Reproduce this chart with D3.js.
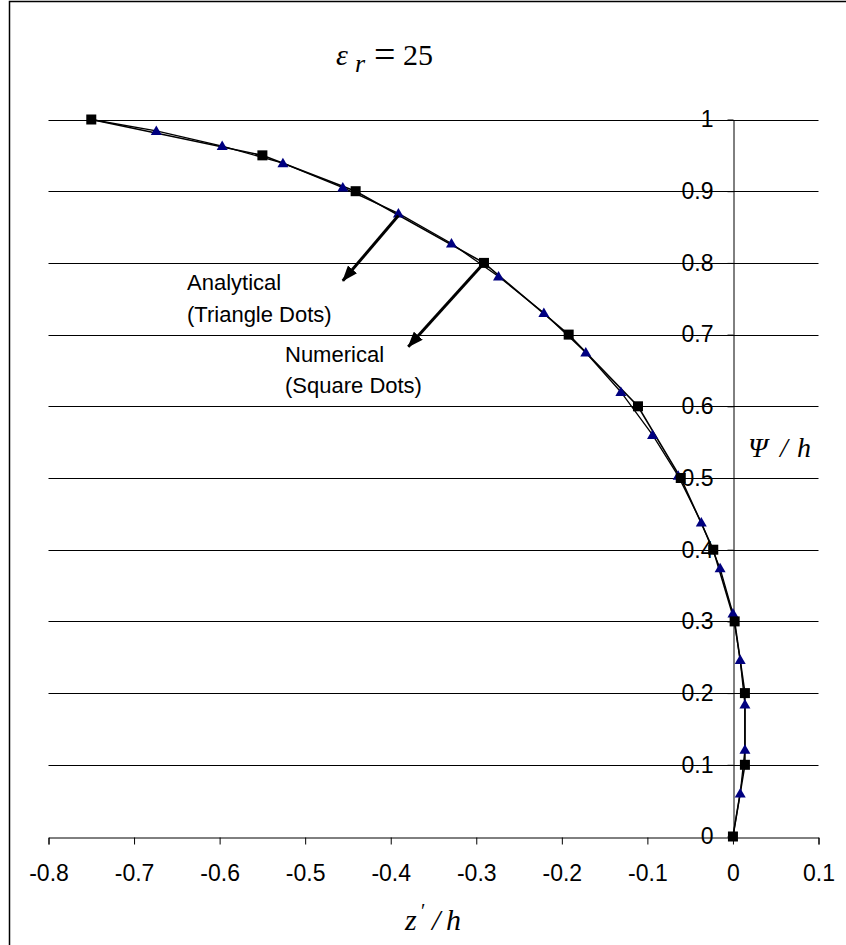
<!DOCTYPE html>
<meta charset="utf-8">
<title>Psi / h vs z' / h</title>
<style>
  body { margin: 0; background: #fff; }
  svg text { fill: #000; }
  .tick-label { font-family: "Liberation Sans", Arial, sans-serif; font-size: 23px; }
  .note { font-family: "Liberation Sans", Arial, sans-serif; font-size: 22px; }
  .math { font-family: "Liberation Serif", "Times New Roman", serif; }
</style>
<script src="https://d3js.org/d3.v7.min.js"></script>
<div id="chart"></div>
<script>
// numerical solution (square dots)
var numZ   = [-0.750, -0.550, -0.441, -0.291, -0.192, -0.111, -0.061, -0.023, 0.002, 0.014, 0.014, 0.000];
var numPsi = [1.00, 0.95, 0.90, 0.80, 0.70, 0.60, 0.50, 0.40, 0.30, 0.20, 0.10, 0.00];

// analytical solution (triangle dots)
var anaZ   = [-0.750, -0.674, -0.597, -0.526, -0.456, -0.391, -0.329, -0.274, -0.221, -0.172, -0.131,
              -0.094, -0.064, -0.037, -0.015, 0.000, 0.0085, 0.014, 0.014, 0.0085, 0.000];
var anaPsi = [1.000, 0.984, 0.963, 0.939, 0.905, 0.869, 0.827, 0.781, 0.730, 0.675, 0.620,
              0.560, 0.503, 0.438, 0.374, 0.311, 0.246, 0.184, 0.121, 0.060, 0.000];

var xTicks = [-0.8, -0.7, -0.6, -0.5, -0.4, -0.3, -0.2, -0.1, 0, 0.1];
var yTicks = [0, 0.1, 0.2, 0.3, 0.4, 0.5, 0.6, 0.7, 0.8, 0.9, 1];

var numerical  = numZ.map(function(d, i) { return {z: d, psi: numPsi[i]}; });
var analytical = anaZ.map(function(d, i) { return {z: d, psi: anaPsi[i]}; });

var width = 846, height = 945;

var svg = d3.select("#chart").append("svg")
    .attr("width", width)
    .attr("height", height);

// outer frame
svg.append("rect")
    .attr("x", 9.5).attr("y", 1.5)
    .attr("width", 860).attr("height", 960)
    .attr("fill", "none").attr("stroke", "#000").attr("stroke-width", 1.5);

var x = d3.scaleLinear().domain([-0.8, 0.1]).range([48.5, 818.5]);
var y = d3.scaleLinear().domain([0, 1]).range([836.5, 119.5]);

// excel style numbers, plain hyphen for minus
function fmt(d) {
  if (d === 0 || d === 1) return String(d);
  return d3.format(".1f")(d).replace("\u2212", "-");
}

// horizontal gridlines
svg.append("g").selectAll("line")
  .data(yTicks.slice(1))
  .enter().append("line")
    .attr("x1", x(-0.8)).attr("x2", x(0.1))
    .attr("y1", function(d) { return Math.round(y(d)) + 0.5; })
    .attr("y2", function(d) { return Math.round(y(d)) + 0.5; })
    .attr("stroke", "#000").attr("stroke-width", 1);

// x axis at psi = 0
var xAxis = svg.append("g")
    .attr("transform", "translate(0," + (Math.round(y(0)) + 0.5) + ")")
    .call(d3.axisBottom(x).tickValues(xTicks).tickSize(7).tickPadding(20).tickFormat(fmt));
xAxis.select(".domain").attr("stroke", "#000");
xAxis.selectAll("text").attr("class", "tick-label").attr("font-size", null).attr("font-family", null);

// y axis at z = 0
var yAxis = svg.append("g")
    .attr("transform", "translate(" + (Math.round(x(0)) + 0.5) + ",0)")
    .call(d3.axisLeft(y).tickValues(yTicks).tickSize(6).tickSizeOuter(0).tickPadding(14).tickFormat(fmt));
yAxis.select(".domain").attr("stroke", "#000");
yAxis.selectAll("text").attr("class", "tick-label").attr("font-size", null).attr("font-family", null);

// curves
var line = d3.line()
    .x(function(d) { return x(d.z); })
    .y(function(d) { return y(d.psi); });

svg.append("path").datum(analytical)
    .attr("d", line).attr("fill", "none").attr("stroke", "#000").attr("stroke-width", 1.3);
svg.append("path").datum(numerical)
    .attr("d", line).attr("fill", "none").attr("stroke", "#000").attr("stroke-width", 1.6);

// triangle dots
svg.append("g").selectAll("path")
  .data(analytical.slice(1, -1))
  .enter().append("path")
    .attr("d", "M0,-5.5L5.5,4L-5.5,4Z")
    .attr("transform", function(d) { return "translate(" + x(d.z) + "," + y(d.psi) + ")"; })
    .attr("fill", "#000080");

// square dots
svg.append("g").selectAll("rect")
  .data(numerical)
  .enter().append("rect")
    .attr("x", function(d) { return x(d.z) - 5; })
    .attr("y", function(d) { return y(d.psi) - 5; })
    .attr("width", 10).attr("height", 10)
    .attr("fill", "#000");

// arrows
svg.append("defs").append("marker")
    .attr("id", "head")
    .attr("markerUnits", "userSpaceOnUse")
    .attr("viewBox", "0 0 16 12")
    .attr("refX", 15).attr("refY", 6)
    .attr("markerWidth", 16).attr("markerHeight", 12)
    .attr("orient", "auto")
  .append("path")
    .attr("d", "M0,0L16,6L0,12Z")
    .attr("fill", "#000");

var arrows = [
  {from: [-0.391, 0.866], to: [-0.456, 0.775]},
  {from: [-0.291, 0.800], to: [-0.3795, 0.683]}
];
svg.append("g").selectAll("line")
  .data(arrows)
  .enter().append("line")
    .attr("x1", function(d) { return x(d.from[0]); })
    .attr("y1", function(d) { return y(d.from[1]); })
    .attr("x2", function(d) { return x(d.to[0]); })
    .attr("y2", function(d) { return y(d.to[1]); })
    .attr("stroke", "#000").attr("stroke-width", 3)
    .attr("marker-end", "url(#head)");

// annotations
svg.append("text").attr("class", "note").attr("x", 187).attr("y", 290).text("Analytical");
svg.append("text").attr("class", "note").attr("x", 187).attr("y", 322).text("(Triangle Dots)");
svg.append("text").attr("class", "note").attr("x", 285).attr("y", 362).text("Numerical");
svg.append("text").attr("class", "note").attr("x", 285).attr("y", 393).text("(Square Dots)");

// title: epsilon_r = 25
var title = svg.append("text").attr("class", "math").attr("y", 65).attr("font-size", 30);
title.append("tspan").attr("x", 336).attr("font-style", "italic").text("\u03b5");
title.append("tspan").attr("x", 355).attr("y", 72).attr("font-style", "italic").attr("font-size", 26).text("r");
title.append("tspan").attr("x", 374).attr("y", 65).attr("font-size", 38).attr("dy", 2).text("=");
title.append("tspan").attr("x", 403).attr("y", 65).text("25");

// x axis title: z' / h
var xt = svg.append("text").attr("class", "math").attr("y", 930)
    .attr("font-size", 30).attr("font-style", "italic");
xt.append("tspan").attr("x", 405).text("z");
xt.append("tspan").attr("x", 421).attr("y", 918).attr("font-size", 20).attr("font-style", "normal").text("\u2032");
xt.append("tspan").attr("x", 432).attr("y", 930).text("/");
xt.append("tspan").attr("x", 446).text("h");

// y axis title: Psi / h
var yt = svg.append("text").attr("class", "math").attr("y", 457)
    .attr("font-size", 28).attr("font-style", "italic");
yt.append("tspan").attr("x", 748).text("\u03a8");
yt.append("tspan").attr("x", 780).text("/");
yt.append("tspan").attr("x", 797).text("h");
</script>
